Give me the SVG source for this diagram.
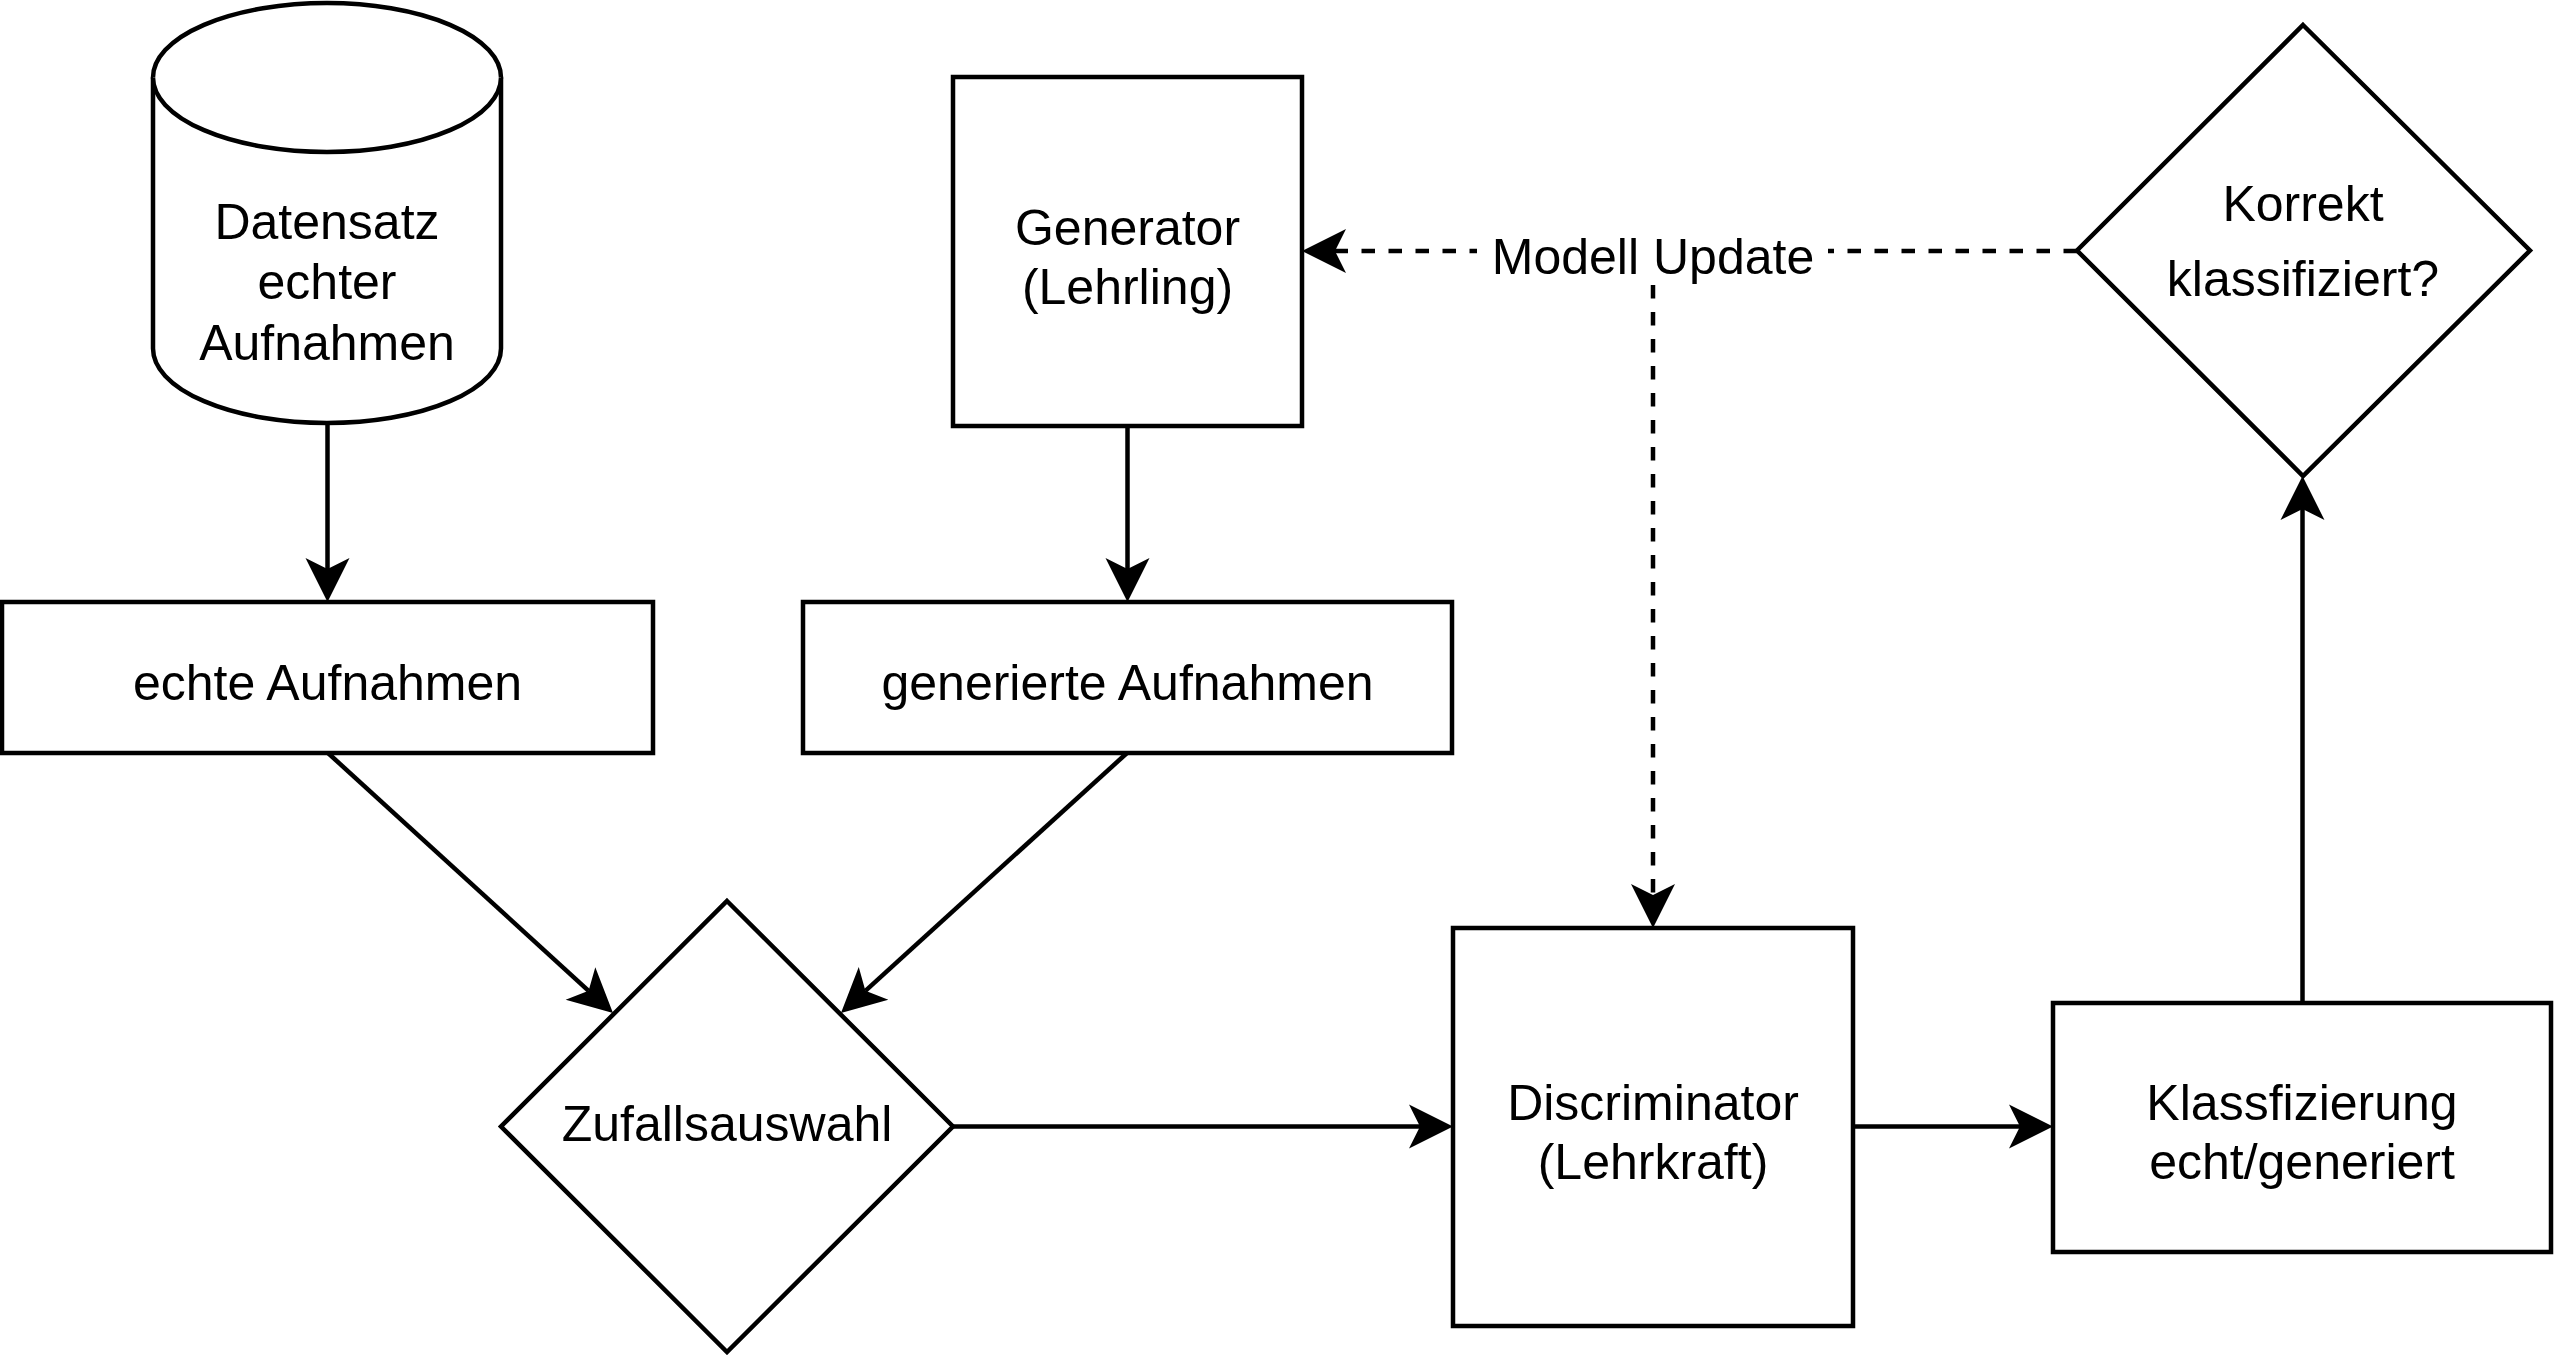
<svg xmlns="http://www.w3.org/2000/svg" width="2555" height="1355" viewBox="0 0 2555 1355">
<defs>
<style>
.shape{fill:#ffffff;stroke:#000000;stroke-width:4.5}
.edge{fill:none;stroke:#000000;stroke-width:4.5;marker-end:url(#arrow)}
.dash{stroke-dasharray:13.5 13.5}
text{font-family:"Liberation Sans",Arial,Helvetica,sans-serif;font-size:50px;fill:#000000;text-anchor:middle}
</style>
<marker id="arrow" markerUnits="userSpaceOnUse" viewBox="-12 -23 46 46" refX="0" refY="0" markerWidth="46" markerHeight="46" orient="auto" overflow="visible">
<path d="M33,0 L-11,-22 L0,0 L-11,22 Z" fill="#000000"/>
</marker>
</defs>
<rect width="2555" height="1355" fill="#ffffff"/>
<g id="connectors">
<line class="edge" x1="327.5" y1="423" x2="327.5" y2="569"/>
<line class="edge" x1="1127.5" y1="426" x2="1127.5" y2="569"/>
<line class="edge" x1="328" y1="753" x2="588.6" y2="990.8"/>
<line class="edge" x1="1127" y1="753" x2="865.4" y2="990.8"/>
<line class="edge" x1="953" y1="1126.5" x2="1420" y2="1126.5"/>
<line class="edge" x1="1853" y1="1126.5" x2="2020" y2="1126.5"/>
<line class="edge" x1="2302.5" y1="1003" x2="2302.5" y2="509"/>
<line class="edge dash" x1="2077" y1="251" x2="1335" y2="251"/>
<line class="edge dash" x1="1653" y1="285" x2="1653" y2="895"/>
<rect x="1477" y="224" width="351" height="58" fill="#ffffff"/>
<text x="1653" y="274">Modell Update</text>
</g>
<g id="datensatz">
<path class="shape" d="M153,77.5 A174,74.5 0 0 1 501,77.5 L501,348.5 A174,74.5 0 0 1 153,348.5 Z"/>
<path class="shape" fill="none" d="M153,77.5 A174,74.5 0 0 0 501,77.5"/>
<text x="327" y="239">Datensatz</text>
<text x="327" y="299">echter</text>
<text x="327" y="360">Aufnahmen</text>
</g>
<g id="generator">
<rect class="shape" x="953" y="77" width="349" height="349"/>
<text x="1127.5" y="245">Generator</text>
<text x="1127.5" y="304">(Lehrling)</text>
</g>
<g id="korrekt">
<polygon class="shape" points="2303,25 2530,250.5 2303,476 2077,250.5"/>
<text x="2303" y="221">Korrekt</text>
<text x="2303" y="296">klassifiziert?</text>
</g>
<g id="echte">
<rect class="shape" x="2" y="602" width="651" height="151"/>
<text x="327.5" y="700">echte Aufnahmen</text>
</g>
<g id="generierte">
<rect class="shape" x="803" y="602" width="649" height="151"/>
<text x="1127.5" y="700">generierte Aufnahmen</text>
</g>
<g id="zufall">
<polygon class="shape" points="727,901 953,1126.5 727,1352 501,1126.5"/>
<text x="727" y="1141">Zufallsauswahl</text>
</g>
<g id="discriminator">
<rect class="shape" x="1453" y="928" width="400" height="398"/>
<text x="1653" y="1120">Discriminator</text>
<text x="1653" y="1179">(Lehrkraft)</text>
</g>
<g id="klassifizierung">
<rect class="shape" x="2053" y="1003" width="498" height="249"/>
<text x="2302" y="1120">Klassfizierung</text>
<text x="2302" y="1179">echt/generiert</text>
</g>
</svg>
